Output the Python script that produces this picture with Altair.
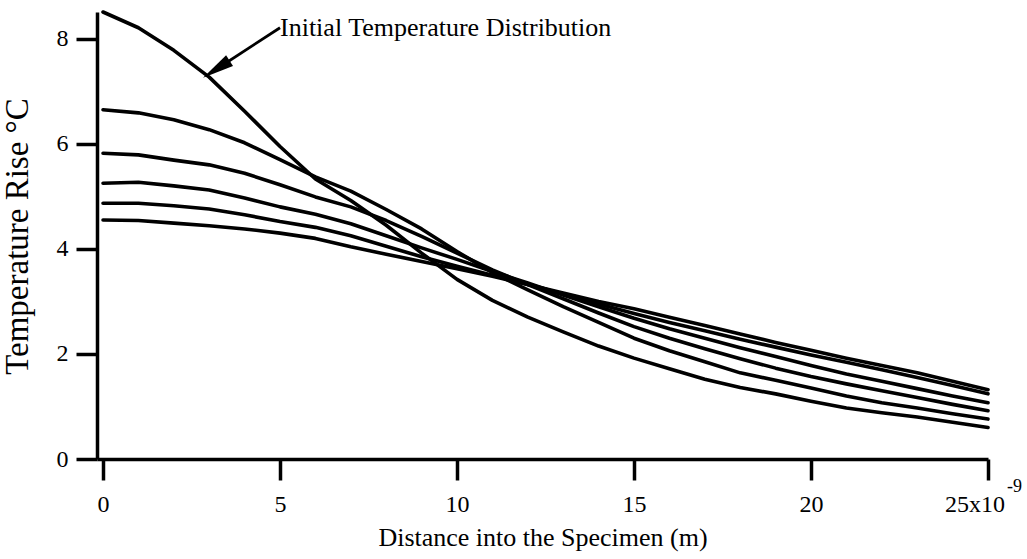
import altair as alt
import pandas as pd

# Distance (x10^-9 m)
x_vals = list(range(0, 26))

# Temperature rise (°C) for each time step
t_initial = [8.51, 8.21, 7.78, 7.27, 6.62, 5.95, 5.33, 4.92, 4.45, 3.92, 3.42, 3.02,
             2.70, 2.42, 2.15, 1.92, 1.72, 1.52, 1.36, 1.24, 1.10, 0.97, 0.88, 0.80, 0.70, 0.60]
t_curve2 = [6.65, 6.59, 6.46, 6.27, 6.02, 5.70, 5.37, 5.10, 4.75, 4.38, 3.95, 3.55,
            3.22, 2.90, 2.60, 2.30, 2.06, 1.85, 1.64, 1.50, 1.35, 1.20, 1.07, 0.97, 0.86, 0.76]
t_curve3 = [5.82, 5.79, 5.69, 5.60, 5.44, 5.22, 4.99, 4.80, 4.54, 4.24, 3.92, 3.60,
            3.32, 3.05, 2.78, 2.52, 2.30, 2.10, 1.91, 1.73, 1.57, 1.43, 1.30, 1.17, 1.04, 0.92]
t_curve4 = [5.25, 5.27, 5.20, 5.12, 4.97, 4.80, 4.66, 4.48, 4.25, 4.02, 3.80, 3.57,
            3.35, 3.12, 2.90, 2.68, 2.48, 2.30, 2.12, 1.95, 1.78, 1.62, 1.48, 1.34, 1.20, 1.07]
t_curve5 = [4.87, 4.87, 4.82, 4.76, 4.65, 4.52, 4.41, 4.25, 4.05, 3.85, 3.67, 3.50,
            3.32, 3.14, 2.95, 2.77, 2.60, 2.44, 2.28, 2.13, 1.98, 1.84, 1.70, 1.55, 1.40, 1.24]
t_curve6 = [4.55, 4.54, 4.49, 4.44, 4.38, 4.30, 4.20, 4.04, 3.90, 3.76, 3.62, 3.48,
            3.32, 3.16, 3.00, 2.86, 2.70, 2.54, 2.38, 2.22, 2.07, 1.92, 1.78, 1.64, 1.48, 1.32]

series = {
    "initial": t_initial, "c2": t_curve2, "c3": t_curve3,
    "c4": t_curve4, "c5": t_curve5, "c6": t_curve6,
}
rows = []
for name, ys in series.items():
    for xv, yv in zip(x_vals, ys):
        rows.append({"x": xv, "y": yv, "series": name})
df = pd.DataFrame(rows)

x_ticks = [0, 5, 10, 15, 20, 25]
y_ticks = [0, 2, 4, 6, 8]

FONT = "Liberation Serif"

xscale = alt.Scale(domain=[-0.17, 25], nice=False, zero=False)
yscale = alt.Scale(domain=[0, 8.51], nice=False, zero=False)

lines = alt.Chart(df).mark_line(color="black", strokeWidth=3.6, clip=False,
                                strokeJoin="round", strokeCap="round").encode(
    x=alt.X("x:Q", scale=xscale,
            axis=alt.Axis(values=x_ticks, title="Distance into the Specimen (m)",
                          labelExpr="datum.value == 25 ? '' : datum.label",
                          grid=False, domainColor="black", domainWidth=3.5,
                          tickColor="black", tickWidth=3.5, tickSize=21,
                          labelFont=FONT, labelFontSize=24, labelColor="black",
                          labelPadding=12, labelFlush=False,
                          titleFont=FONT, titleFontSize=26, titleFontWeight="normal",
                          titleColor="black", titleBaseline="alphabetic", titleY=86)),
    y=alt.Y("y:Q", scale=yscale,
            axis=alt.Axis(values=y_ticks, title="Temperature Rise °C",
                          grid=False, domainColor="black", domainWidth=3.5,
                          tickColor="black", tickWidth=3.5, tickSize=21,
                          labelFont=FONT, labelFontSize=24, labelColor="black",
                          labelPadding=8, labelFlush=False,
                          titleFont=FONT, titleFontSize=33, titleFontWeight="normal",
                          titleColor="black", titleAngle=-90, titleAlign="center",
                          titleBaseline="alphabetic", titleX=-70, titleY=224)),
    detail="series:N",
)

# Annotation
ann_text = pd.DataFrame({"x": [5.0], "y": [8.21], "label": ["Initial Temperature Distribution"]})
ann_line = pd.DataFrame({"x": [5.0], "y": [8.21], "x2": [3.2], "y2": [7.42]})
ann_head = pd.DataFrame({"x": [3.2], "y": [7.42]})

text = alt.Chart(ann_text).mark_text(font=FONT, fontSize=26, align="left", baseline="middle",
                                     color="black").encode(x="x:Q", y="y:Q", text="label:N")
arrow = alt.Chart(ann_line).mark_rule(color="black", strokeWidth=2.8).encode(
    x="x:Q", y="y:Q", x2="x2:Q", y2="y2:Q")
head = alt.Chart(ann_head).mark_point(shape="M0,-1L0.4,1L-0.4,1Z", size=1000, filled=True,
                                      color="black", opacity=1, strokeWidth=0,
                                      angle=237).encode(x="x:Q", y="y:Q")

# last tick label with exponent
last_lbl = pd.DataFrame({"x": [25], "y": [0], "label": ["25x10"]})
exp_lbl = pd.DataFrame({"x": [25], "y": [0], "label": ["-9"]})
lbl25 = alt.Chart(last_lbl).mark_text(font=FONT, fontSize=24, align="right", baseline="alphabetic",
                                      dx=17, dy=53, color="black").encode(x="x:Q", y="y:Q", text="label:N")
lblexp = alt.Chart(exp_lbl).mark_text(font=FONT, fontSize=18, align="left", baseline="alphabetic",
                                      dx=19, dy=33, color="black").encode(x="x:Q", y="y:Q", text="label:N")

chart = alt.layer(lines, arrow, head, text, lbl25, lblexp).properties(
    width=891, height=447,
    background="white",
    autosize=alt.AutoSizeParams(type="none"),
    padding={"left": 97, "top": 12, "right": 39, "bottom": 100},
).configure_view(strokeWidth=0, stroke="transparent")

chart.save("out.html", embed_options={"renderer": "svg", "actions": False})
